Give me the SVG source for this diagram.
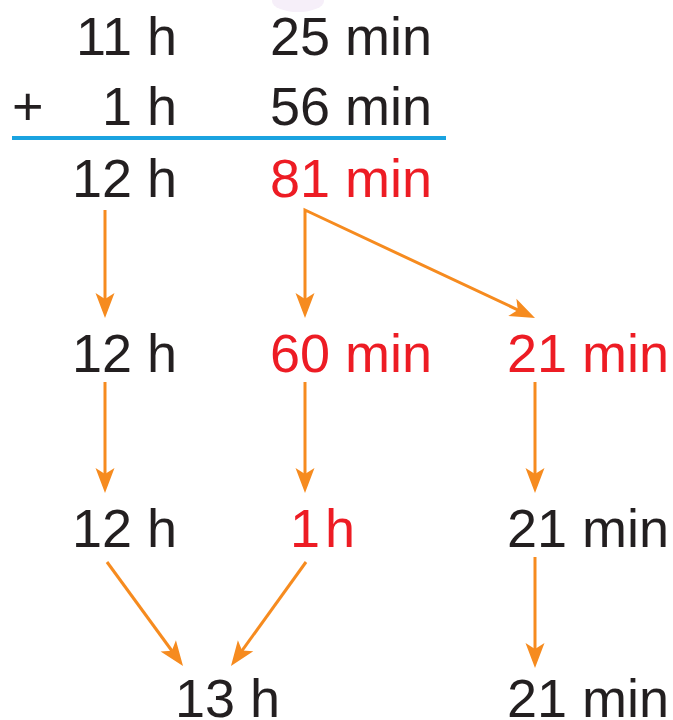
<svg xmlns="http://www.w3.org/2000/svg" width="673" height="720" viewBox="0 0 673 720">
<style>
text{font-family:"Liberation Sans","DejaVu Sans",sans-serif;font-size:54px;fill:#231f20}
.r{fill:#ed1c24}
.e{text-anchor:end}
.arr{fill:none;stroke:#f68b1f;stroke-width:3;stroke-linejoin:miter}
</style>
<defs>
<marker id="ah" viewBox="-26 -11 28 22" refX="-18" refY="0" markerWidth="28" markerHeight="22" markerUnits="userSpaceOnUse" orient="auto-start-reverse">
<path d="M0,0 L-25,-9.5 L-19,0 L-25,9.5 Z" fill="#f68b1f"/>
</marker>
</defs>
<rect width="673" height="720" fill="#fff"/>
<ellipse cx="298" cy="1" rx="26" ry="11" fill="#f6eff9"/>
<g id="row1">
<text class="e" x="177" y="55">11 h</text>
<text x="270" y="55">25 min</text>
</g>
<g id="row2">
<text x="12" y="125">+</text>
<text class="e" x="177" y="125">1 h</text>
<text x="270" y="125">56 min</text>
</g>
<line id="sumline" x1="12" y1="138" x2="446" y2="138" stroke="#1aa3e0" stroke-width="4"/>
<g id="row3">
<text class="e" x="177" y="197">12 h</text>
<text class="r" x="270" y="197">81 min</text>
</g>
<g id="row4">
<text class="e" x="177" y="372">12 h</text>
<text class="r" x="270" y="372">60 min</text>
<text class="r" x="507" y="372">21 min</text>
</g>
<g id="row5">
<text class="e" x="177" y="547">12 h</text>
<text class="r" x="290" y="547" word-spacing="-10">1 h</text>
<text x="507" y="547">21 min</text>
</g>
<g id="row6">
<text x="175" y="717">13 h</text>
<text x="507" y="717">21 min</text>
</g>
<g id="connectors">
<path class="arr" d="M105,210 V300" marker-end="url(#ah)"/>
<path class="arr" d="M305,300 V210 L518.7,310.3" marker-start="url(#ah)" marker-end="url(#ah)"/>
<path class="arr" d="M105,382 V475" marker-end="url(#ah)"/>
<path class="arr" d="M305,382 V475" marker-end="url(#ah)"/>
<path class="arr" d="M535,382 V475" marker-end="url(#ah)"/>
<path class="arr" d="M107,562 L172.4,651.5" marker-end="url(#ah)"/>
<path class="arr" d="M306,562 L241.5,651.4" marker-end="url(#ah)"/>
<path class="arr" d="M535,557 V650" marker-end="url(#ah)"/>
</g>
</svg>
